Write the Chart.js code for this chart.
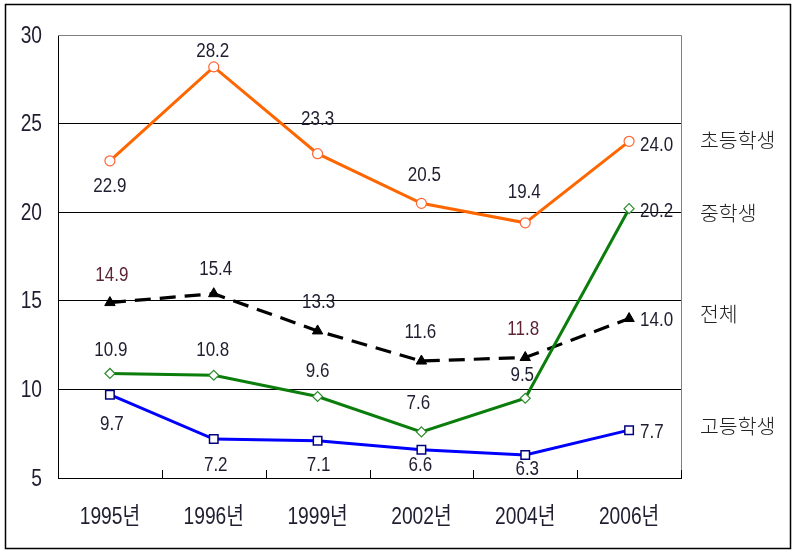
<!DOCTYPE html>
<html>
<head>
<meta charset="utf-8">
<script src="https://cdn.jsdelivr.net/npm/chart.js@4"></script>
<style>
  html,body{margin:0;padding:0;background:#fff;}
</style>
</head>
<body>
<canvas id="chart" width="795" height="554"></canvas>
<script>
const years=['1995년','1996년','1999년','2002년','2004년','2006년'];
const yTicks=[5,10,15,20,25,30];

const elementary=[22.9,28.2,23.3,20.5,19.4,24.0];
const middle=[10.9,10.8,9.6,7.6,9.5,20.2];
const total=[14.9,15.4,13.3,11.6,11.8,14.0];
const high=[9.7,7.2,7.1,6.6,6.3,7.7];

const seriesNames=['초등학생','중학생','전체','고등학생'];

// value label offsets from the point: [dx, dy] (dx of last one is the left edge)
const elemOff=[[0,26],[-1,-15],[0,-34],[3,-28],[-1,-30],[11,4]];
const midOff=[[1,-23],[-1,-25],[0,-25],[-3,-28],[-3,-23],[11,3]];
const totOff=[[2,-27],[2,-24],[1,-28],[-1,-29],[-2,-28],[11,2]];
const highOff=[[2,30],[2,26],[1,25],[-1,16],[2,15],[11,2]];

const NUM='"Liberation Sans","Noto Sans CJK KR",sans-serif';
const KFONT='"Noto Sans CJK KR","Noto Sans",sans-serif';
const TXT='#1e1e30';

// condensed text (the original uses a narrow face)
function narrow(g,txt,x,y,size,align,color,sx){
  g.save();
  g.font=size+'px '+NUM;
  g.fillStyle=color;
  g.textBaseline='middle';
  const w=g.measureText(txt).width*sx;
  let x0=x;
  if(align==='center')x0=x-w/2;
  else if(align==='right')x0=x-w;
  g.translate(x0,y);
  g.scale(sx,1);
  g.textAlign='left';
  g.fillText(txt,0,0);
  g.restore();
}

const decor={
  id:'decor',
  beforeDraw(c){
    const g=c.ctx;
    g.save();
    g.fillStyle='#fff';
    g.fillRect(0,0,c.width,c.height);
    g.restore();
  },
  afterDatasetsDraw(c){
    const g=c.ctx, a=c.chartArea, x=c.scales.x, y=c.scales.y;
    g.save();
    // top & right edge gray
    g.strokeStyle='#808080';g.lineWidth=1;
    g.beginPath();
    g.moveTo(a.left,a.top+0.5);g.lineTo(a.right+0.5,a.top+0.5);g.lineTo(a.right+0.5,a.bottom);
    g.stroke();
    // short category ticks on the bottom axis
    g.strokeStyle='#000';
    for(let i=0;i<years.length;i++){
      const nx=i<years.length-1?x.getPixelForTick(i+1):x.getPixelForTick(i)*2-x.getPixelForTick(i-1);
      const px=Math.round((x.getPixelForTick(i)+nx)/2)+0.5;
      g.beginPath();g.moveTo(px,a.bottom);g.lineTo(px,a.bottom-8);g.stroke();
    }
    // axis tick labels
    y.ticks.forEach((t,i)=>narrow(g,String(t.value),a.left-16,y.getPixelForTick(i)+1,24,'right',TXT,0.8));
    years.forEach((lb,i)=>narrow(g,lb,x.getPixelForTick(i),517,24,'center',TXT,0.8));
    // value labels
    c.data.datasets.forEach((ds,di)=>{
      const meta=c.getDatasetMeta(di);
      meta.data.forEach((pt,i)=>{
        const o=ds.labelOff[i];
        const txt=ds.data[i].toFixed(1);
        const col=(ds.labelRed&&ds.labelRed[i])?'#5e2434':TXT;
        if(i===ds.data.length-1)narrow(g,txt,pt.x+o[0],pt.y+o[1],20,'left',col,0.85);
        else narrow(g,txt,pt.x+o[0],pt.y+o[1],20,'center',col,0.85);
      });
    });
    // series names on the right
    g.font='300 20.5px '+KFONT;
    g.fillStyle='#222';
    g.textAlign='left';
    g.textBaseline='middle';
    const nameY=[140,213,314,426];
    seriesNames.forEach((n,i)=>g.fillText(n,700,nameY[i]));
    // outer frame
    g.strokeStyle='#000';g.lineWidth=1.5;
    g.strokeRect(5.5,4.5,785,544);
    g.restore();
  }
};

new Chart(document.getElementById('chart'),{
  type:'line',
  data:{
    labels:years,
    datasets:[
      {label:seriesNames[0],data:elementary,labelOff:elemOff,
       borderColor:'#ff6600',borderWidth:3,pointStyle:'circle',pointRadius:5,
       pointBackgroundColor:'#fff',pointBorderColor:'#ff6633',pointBorderWidth:1.2},
      {label:seriesNames[1],data:middle,labelOff:midOff,
       borderColor:'#0a7d0a',borderWidth:3,pointStyle:'rectRot',pointRadius:5,
       pointBackgroundColor:'#fff',pointBorderColor:'#2e8b2e',pointBorderWidth:1.2},
      {label:seriesNames[2],data:total,labelOff:totOff,labelRed:[1,0,0,0,1,0],
       borderColor:'#000',borderWidth:3.2,borderDash:[16,9],pointStyle:'triangle',pointRadius:6,
       pointBackgroundColor:'#000',pointBorderColor:'#000',pointBorderWidth:1},
      {label:seriesNames[3],data:high,labelOff:highOff,
       borderColor:'#0000ff',borderWidth:3,pointStyle:'rect',pointRadius:6,
       pointBackgroundColor:'#fff',pointBorderColor:'#000080',pointBorderWidth:1.5}
    ]
  },
  options:{
    responsive:false,
    animation:false,
    layout:{padding:{left:0,right:114,top:35,bottom:0}},
    plugins:{legend:{display:false},tooltip:{enabled:false}},
    scales:{
      x:{
        offset:true,
        grid:{display:false,drawTicks:false},
        border:{display:true,color:'#000',width:1},
        ticks:{font:{size:18,family:NUM},color:'rgba(0,0,0,0)',padding:30,maxRotation:0},
        afterFit(s){s.height=76;}
      },
      y:{
        min:5,max:30,
        afterBuildTicks(s){s.ticks=yTicks.map(v=>({value:v}));},
        grid:{drawTicks:false,color:ctx=>ctx.tick&&ctx.tick.value===30?'#808080':'#000',lineWidth:1},
        border:{display:true,color:'#000',width:1},
        ticks:{font:{size:19,family:NUM},color:'rgba(0,0,0,0)',padding:16},
        afterFit(s){s.width=58;}
      }
    }
  },
  plugins:[decor]
});
</script>
</body>
</html>
